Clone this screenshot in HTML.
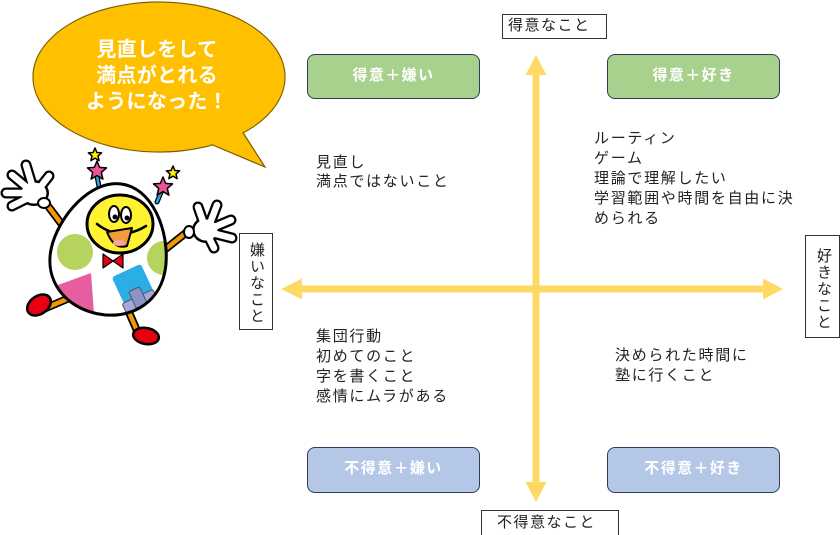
<!DOCTYPE html>
<html><head><meta charset="utf-8">
<style>
html,body{margin:0;padding:0;background:#fff;}
#c{position:relative;width:840px;height:535px;overflow:hidden;background:#fff;font-family:"Liberation Sans","Noto Sans CJK JP",sans-serif;}
svg{position:absolute;left:0;top:0;}
.t{position:absolute;font-size:15px;line-height:20px;letter-spacing:1.7px;color:#222;white-space:nowrap;}
.box{position:absolute;box-sizing:border-box;border:1.5px solid #2f3d57;border-radius:8px;color:#fff;font-weight:bold;font-size:15px;letter-spacing:1.4px;text-align:center;line-height:42px;white-space:nowrap;}
.g{background:#a9d18e;}
.b{background:#b4c7e7;}
.lbl{position:absolute;box-sizing:border-box;border:1.3px solid #333;background:#fff;font-size:15px;letter-spacing:1.5px;color:#222;white-space:nowrap;}
.v{writing-mode:vertical-rl;text-align:center;}
.bub{position:absolute;left:57px;top:37px;width:200px;text-align:center;color:#fff;font-weight:bold;font-size:20px;line-height:26px;letter-spacing:0.3px;white-space:nowrap;}
</style></head><body>
<div id="c">
<svg width="840" height="535" viewBox="0 0 840 535">
  <defs>
    <clipPath id="egg"><path d="M0,-68 C34,-68 58,-22 58,10 C58,43 32,64 0,64 C-32,64 -58,43 -58,10 C-58,-22 -34,-68 0,-68Z" transform="translate(110,251) rotate(12)"/></clipPath>
  </defs>
  <!-- axes -->
  <g fill="#ffd966">
    <rect x="300" y="285.5" width="465" height="7"/>
    <polygon points="281,289 302,278.5 302,299.5"/>
    <polygon points="783,289 763,278.5 763,299.5"/>
    <rect x="532.5" y="72" width="7" height="412"/>
    <polygon points="536,55 525.5,75 546.5,75"/>
    <polygon points="536,502 525.5,482 546.5,482"/>
  </g>
  <!-- speech bubble -->
  <ellipse cx="159" cy="77" rx="126" ry="75" fill="#ffc000" stroke="#7a5c00" stroke-width="1.2"/>
  <polygon points="240,128 265,167 208,143" fill="#ffc000" stroke="#7a5c00" stroke-width="1.2"/>
  <ellipse cx="159" cy="77" rx="125.4" ry="74.4" fill="#ffc000"/>

  <!-- character -->
  <g stroke-linecap="round" stroke-linejoin="round">
    <!-- arms -->
    <line x1="45" y1="202" x2="72" y2="238" stroke="#000" stroke-width="8"/>
    <line x1="45" y1="202" x2="72" y2="238" stroke="#f39800" stroke-width="4.5"/>
    <line x1="187" y1="232" x2="158" y2="255" stroke="#000" stroke-width="8"/>
    <line x1="187" y1="232" x2="158" y2="255" stroke="#f39800" stroke-width="4.5"/>
    <!-- legs -->
    <line x1="74" y1="296" x2="46" y2="308" stroke="#000" stroke-width="8"/>
    <line x1="74" y1="296" x2="46" y2="308" stroke="#f39800" stroke-width="4.5"/>
    <line x1="128" y1="310" x2="138" y2="333" stroke="#000" stroke-width="8"/>
    <line x1="128" y1="310" x2="138" y2="333" stroke="#f39800" stroke-width="4.5"/>
    <!-- shoes -->
    <ellipse cx="39" cy="305" rx="13" ry="9" transform="rotate(-35 39 305)" fill="#e60012" stroke="#000" stroke-width="2.5"/>
    <ellipse cx="146" cy="336" rx="13" ry="8" transform="rotate(10 146 336)" fill="#e60012" stroke="#000" stroke-width="2.5"/>
    <!-- antennae -->
    <line x1="100" y1="192" x2="97" y2="176" stroke="#000" stroke-width="5"/>
    <line x1="100" y1="192" x2="97" y2="176" stroke="#29abe2" stroke-width="2.5"/>
    <line x1="157" y1="202" x2="162" y2="190" stroke="#000" stroke-width="5"/>
    <line x1="157" y1="202" x2="162" y2="190" stroke="#29abe2" stroke-width="2.5"/>
    <polygon points="0,-1 0.265,-0.364 0.951,-0.309 0.428,0.139 0.588,0.809 0,0.45 -0.588,0.809 -0.428,0.139 -0.951,-0.309 -0.265,-0.364" transform="translate(97,171) scale(10)" fill="#e8559a" stroke="#000" stroke-width="1.5" vector-effect="non-scaling-stroke"/>
    <polygon points="0,-1 0.265,-0.364 0.951,-0.309 0.428,0.139 0.588,0.809 0,0.45 -0.588,0.809 -0.428,0.139 -0.951,-0.309 -0.265,-0.364" transform="translate(95,155) scale(7)" fill="#fff200" stroke="#000" stroke-width="1.5" vector-effect="non-scaling-stroke"/>
    <polygon points="0,-1 0.265,-0.364 0.951,-0.309 0.428,0.139 0.588,0.809 0,0.45 -0.588,0.809 -0.428,0.139 -0.951,-0.309 -0.265,-0.364" transform="translate(163,187) scale(10)" fill="#e8559a" stroke="#000" stroke-width="1.5" vector-effect="non-scaling-stroke"/>
    <polygon points="0,-1 0.265,-0.364 0.951,-0.309 0.428,0.139 0.588,0.809 0,0.45 -0.588,0.809 -0.428,0.139 -0.951,-0.309 -0.265,-0.364" transform="translate(173,173) scale(7)" fill="#fff200" stroke="#000" stroke-width="1.5" vector-effect="non-scaling-stroke"/>
    <!-- left glove -->
    <g stroke="#000" stroke-width="11">
      <line x1="33" y1="188" x2="26" y2="165"/>
      <line x1="30" y1="190" x2="12" y2="175"/>
      <line x1="28" y1="193" x2="6" y2="193"/>
      <line x1="30" y1="197" x2="12" y2="206"/>
      <line x1="38" y1="190" x2="49" y2="176"/>
    </g>
    <ellipse cx="34" cy="193" rx="15" ry="13" fill="#000"/>
    <g stroke="#fff" stroke-width="6.5">
      <line x1="33" y1="188" x2="26" y2="165"/>
      <line x1="30" y1="190" x2="12" y2="175"/>
      <line x1="28" y1="193" x2="6" y2="193"/>
      <line x1="30" y1="197" x2="12" y2="206"/>
      <line x1="38" y1="190" x2="49" y2="176"/>
    </g>
    <ellipse cx="34" cy="193" rx="12.5" ry="10.5" fill="#fff"/>
    <ellipse cx="44" cy="203" rx="6" ry="5" fill="#fff" stroke="#000" stroke-width="2"/>
    <!-- right glove -->
    <g stroke="#000" stroke-width="11">
      <line x1="205" y1="227" x2="198" y2="207"/>
      <line x1="209" y1="226" x2="217" y2="205"/>
      <line x1="212" y1="228" x2="231" y2="220"/>
      <line x1="212" y1="233" x2="232" y2="238"/>
      <line x1="208" y1="236" x2="214" y2="248"/>
    </g>
    <ellipse cx="206" cy="230" rx="14" ry="13" fill="#000"/>
    <g stroke="#fff" stroke-width="6.5">
      <line x1="205" y1="227" x2="198" y2="207"/>
      <line x1="209" y1="226" x2="217" y2="205"/>
      <line x1="212" y1="228" x2="231" y2="220"/>
      <line x1="212" y1="233" x2="232" y2="238"/>
      <line x1="208" y1="236" x2="214" y2="248"/>
    </g>
    <ellipse cx="206" cy="230" rx="11.5" ry="10.5" fill="#fff"/>
    <ellipse cx="189" cy="232" rx="5" ry="6" fill="#fff" stroke="#000" stroke-width="2"/>
    <!-- body -->
    <path d="M0,-68 C34,-68 58,-22 58,10 C58,43 32,64 0,64 C-32,64 -58,43 -58,10 C-58,-22 -34,-68 0,-68Z" transform="translate(110,251) rotate(12)" fill="#fff"/>
    <g clip-path="url(#egg)">
      <circle cx="75" cy="252" r="18" fill="#b6d35d"/>
      <circle cx="164" cy="258" r="17" fill="#b6d35d"/>
      <polygon points="58,285 91,273 94,314 52,314" fill="#e65da0"/>
      <rect x="-16" y="-16" width="32" height="32" rx="3" transform="translate(133,285) rotate(-25)" fill="#2aaee5"/>
      <g transform="translate(140,302) rotate(-25)">
        <rect x="-17" y="-6" width="34" height="12" rx="2" fill="#a3a8dd" stroke="#555" stroke-width="1"/>
        <rect x="-6" y="-14" width="12" height="28" rx="2" fill="#8d92c8" stroke="#555" stroke-width="1"/>
      </g>
    </g>
    <path d="M0,-68 C34,-68 58,-22 58,10 C58,43 32,64 0,64 C-32,64 -58,43 -58,10 C-58,-22 -34,-68 0,-68Z" transform="translate(110,251) rotate(12)" fill="none" stroke="#000" stroke-width="3"/>
    <!-- face -->
    <ellipse cx="120" cy="224" rx="33" ry="29" fill="#fff231" stroke="#000" stroke-width="3"/>
    <ellipse cx="114" cy="214" rx="5" ry="8" fill="#fff" stroke="#000" stroke-width="2"/>
    <ellipse cx="126" cy="215" rx="5" ry="8" fill="#fff" stroke="#000" stroke-width="2"/>
    <circle cx="115" cy="217" r="2.5" fill="#000"/>
    <circle cx="127" cy="218" r="2.5" fill="#000"/>
    <path d="M97,224 Q120,242 146,226" fill="none" stroke="#000" stroke-width="2.5"/>
    <path d="M107,232 L132,228 L127,246 Q114,250 107,232 Z" fill="#f39a3c" stroke="#000" stroke-width="2"/>
    <ellipse cx="119" cy="243" rx="6" ry="3" fill="#f6a5a5"/>
    <!-- bow tie -->
    <polygon points="103,254 113,261 103,268" fill="#e60012" stroke="#000" stroke-width="1.2"/>
    <polygon points="123,254 113,261 123,268" fill="#e60012" stroke="#000" stroke-width="1.2"/>
  </g>
</svg>

<div class="bub">見直しをして<br>満点がとれる<br>ようになった！</div>

<div class="lbl" style="left:502px;top:14px;width:105px;height:25px;line-height:22px;padding-left:5px;">得意なこと</div>
<div class="lbl" style="left:481px;top:510px;width:138px;height:26px;line-height:24px;padding-left:15px;">不得意なこと</div>
<div class="lbl v" style="left:239px;top:233px;width:34px;height:97px;line-height:31px;padding-top:4px;">嫌いなこと</div>
<div class="lbl v" style="left:805px;top:235px;width:35px;height:103px;line-height:32px;padding-top:6px;">好きなこと</div>

<div class="box g" style="left:307px;top:54px;width:173px;height:45px;">得意＋嫌い</div>
<div class="box g" style="left:607px;top:54px;width:173px;height:45px;">得意＋好き</div>
<div class="box b" style="left:307px;top:447px;width:173px;height:46px;">不得意＋嫌い</div>
<div class="box b" style="left:607px;top:447px;width:173px;height:46px;">不得意＋好き</div>

<div class="t" style="left:316px;top:153px;line-height:19px;">見直し<br>満点ではないこと</div>
<div class="t" style="left:594px;top:129px;">ルーティン<br>ゲーム<br>理論で理解したい<br>学習範囲や時間を自由に決<br>められる</div>
<div class="t" style="left:316px;top:327px;">集団行動<br>初めてのこと<br>字を書くこと<br>感情にムラがある</div>
<div class="t" style="left:615px;top:346px;">決められた時間に<br>塾に行くこと</div>
</div>
</body></html>
